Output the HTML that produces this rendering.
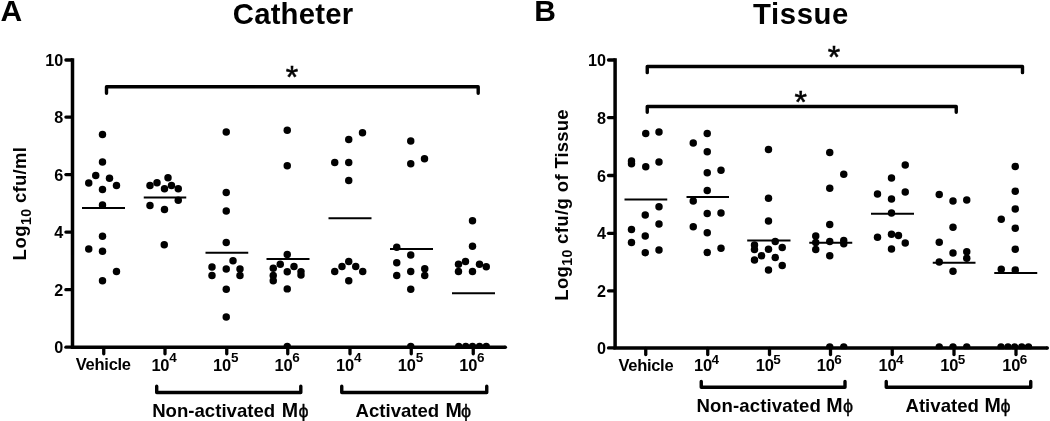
<!DOCTYPE html>
<html><head><meta charset="utf-8"><title>Figure</title>
<style>
html,body{margin:0;padding:0;background:#fff;}
body{width:1050px;height:421px;position:relative;overflow:hidden;font-family:"Liberation Sans",sans-serif;}
</style></head><body>
<svg width="1050" height="421" viewBox="0 0 1050 421" style="position:absolute;left:0;top:0;will-change:transform;opacity:0.999" font-family="Liberation Sans, sans-serif" font-weight="bold" fill="#000"><defs><clipPath id="cl"><rect x="0" y="0" width="525" height="348.6"/></clipPath><clipPath id="cr"><rect x="525" y="0" width="525" height="349.3"/></clipPath></defs><path d="M72.5 58.35 V347.2 H505.3" fill="none" stroke="#000" stroke-width="3.5" stroke-linejoin="miter"/><circle cx="505.3" cy="347.2" r="1.75"/><line x1="65.9" y1="60" x2="71.9" y2="60" stroke="#000" stroke-width="3.3" stroke-linecap="round"/><line x1="65.9" y1="117.1" x2="71.9" y2="117.1" stroke="#000" stroke-width="3.3" stroke-linecap="round"/><line x1="65.9" y1="174.6" x2="71.9" y2="174.6" stroke="#000" stroke-width="3.3" stroke-linecap="round"/><line x1="65.9" y1="232.1" x2="71.9" y2="232.1" stroke="#000" stroke-width="3.3" stroke-linecap="round"/><line x1="65.9" y1="289.7" x2="71.9" y2="289.7" stroke="#000" stroke-width="3.3" stroke-linecap="round"/><line x1="65.9" y1="347.2" x2="71.9" y2="347.2" stroke="#000" stroke-width="3.3" stroke-linecap="round"/><line x1="103.75" y1="347.8" x2="103.75" y2="353.8" stroke="#000" stroke-width="3.3" stroke-linecap="round"/><line x1="165" y1="347.8" x2="165" y2="353.8" stroke="#000" stroke-width="3.3" stroke-linecap="round"/><line x1="226.75" y1="347.8" x2="226.75" y2="353.8" stroke="#000" stroke-width="3.3" stroke-linecap="round"/><line x1="287.75" y1="347.8" x2="287.75" y2="353.8" stroke="#000" stroke-width="3.3" stroke-linecap="round"/><line x1="350" y1="347.8" x2="350" y2="353.8" stroke="#000" stroke-width="3.3" stroke-linecap="round"/><line x1="411.25" y1="347.8" x2="411.25" y2="353.8" stroke="#000" stroke-width="3.3" stroke-linecap="round"/><line x1="473.25" y1="347.8" x2="473.25" y2="353.8" stroke="#000" stroke-width="3.3" stroke-linecap="round"/><text x="63.3" y="66.0" text-anchor="end" font-size="16.2">10</text><text x="63.3" y="123.1" text-anchor="end" font-size="16.2">8</text><text x="63.3" y="180.6" text-anchor="end" font-size="16.2">6</text><text x="63.3" y="238.1" text-anchor="end" font-size="16.2">4</text><text x="63.3" y="295.7" text-anchor="end" font-size="16.2">2</text><text x="63.3" y="353.2" text-anchor="end" font-size="16.2">0</text><g clip-path="url(#cl)"><circle cx="102.5" cy="134.5" r="3.72"/><circle cx="102.5" cy="162" r="3.72"/><circle cx="95.75" cy="175.5" r="3.72"/><circle cx="109.5" cy="178.25" r="3.72"/><circle cx="88.75" cy="183" r="3.72"/><circle cx="116.5" cy="185.5" r="3.72"/><circle cx="102.5" cy="189.5" r="3.72"/><circle cx="102.5" cy="205" r="3.72"/><circle cx="102.5" cy="236.25" r="3.72"/><circle cx="88.75" cy="249" r="3.72"/><circle cx="102.5" cy="251.25" r="3.72"/><circle cx="116.5" cy="271.5" r="3.72"/><circle cx="102.5" cy="280.75" r="3.72"/><circle cx="168" cy="177.75" r="3.72"/><circle cx="157" cy="182.75" r="3.72"/><circle cx="150" cy="185.5" r="3.72"/><circle cx="171.5" cy="185.5" r="3.72"/><circle cx="164.5" cy="188.75" r="3.72"/><circle cx="178.25" cy="188.75" r="3.72"/><circle cx="178.25" cy="200.25" r="3.72"/><circle cx="150" cy="205.5" r="3.72"/><circle cx="164.5" cy="209.5" r="3.72"/><circle cx="164.25" cy="244.75" r="3.72"/><circle cx="226.25" cy="132" r="3.72"/><circle cx="226.25" cy="192.5" r="3.72"/><circle cx="226.25" cy="211" r="3.72"/><circle cx="226.25" cy="242.5" r="3.72"/><circle cx="233" cy="260.75" r="3.72"/><circle cx="212" cy="267" r="3.72"/><circle cx="226.25" cy="269" r="3.72"/><circle cx="240" cy="269" r="3.72"/><circle cx="212" cy="275.5" r="3.72"/><circle cx="240" cy="275.5" r="3.72"/><circle cx="226.25" cy="289.25" r="3.72"/><circle cx="226.25" cy="317" r="3.72"/><circle cx="287.25" cy="130.25" r="3.72"/><circle cx="287.25" cy="165.75" r="3.72"/><circle cx="287.25" cy="254.5" r="3.72"/><circle cx="280.25" cy="264.3" r="3.72"/><circle cx="294" cy="266.5" r="3.72"/><circle cx="273.25" cy="268.3" r="3.72"/><circle cx="287.25" cy="271.7" r="3.72"/><circle cx="301" cy="271.6" r="3.72"/><circle cx="273.25" cy="275.5" r="3.72"/><circle cx="301" cy="275.1" r="3.72"/><circle cx="273.25" cy="280.75" r="3.72"/><circle cx="287.25" cy="288.9" r="3.72"/><circle cx="287.25" cy="346.5" r="3.72"/><circle cx="348.75" cy="139.5" r="3.72"/><circle cx="362.5" cy="132.75" r="3.72"/><circle cx="334.75" cy="162.5" r="3.72"/><circle cx="348.75" cy="162.5" r="3.72"/><circle cx="348.75" cy="180.5" r="3.72"/><circle cx="348.75" cy="261.5" r="3.72"/><circle cx="342" cy="266.5" r="3.72"/><circle cx="355.75" cy="266.5" r="3.72"/><circle cx="334.75" cy="271.5" r="3.72"/><circle cx="362.75" cy="271.5" r="3.72"/><circle cx="348.75" cy="280.75" r="3.72"/><circle cx="410.75" cy="141" r="3.72"/><circle cx="410.75" cy="163.75" r="3.72"/><circle cx="424.5" cy="158.75" r="3.72"/><circle cx="396.75" cy="247.25" r="3.72"/><circle cx="410.75" cy="255" r="3.72"/><circle cx="396.75" cy="262.75" r="3.72"/><circle cx="424.75" cy="268.75" r="3.72"/><circle cx="410.75" cy="271.5" r="3.72"/><circle cx="396.75" cy="275.5" r="3.72"/><circle cx="424.75" cy="275.5" r="3.72"/><circle cx="410.75" cy="289.25" r="3.72"/><circle cx="410.75" cy="346.5" r="3.72"/><circle cx="472.5" cy="220.75" r="3.72"/><circle cx="472.5" cy="246.25" r="3.72"/><circle cx="465.5" cy="261.5" r="3.72"/><circle cx="458.5" cy="264.25" r="3.72"/><circle cx="479.5" cy="264.25" r="3.72"/><circle cx="486.25" cy="266.75" r="3.72"/><circle cx="458.5" cy="271.5" r="3.72"/><circle cx="472.5" cy="271.5" r="3.72"/><circle cx="458.75" cy="346.5" r="3.72"/><circle cx="465.75" cy="346.5" r="3.72"/><circle cx="472.5" cy="346.5" r="3.72"/><circle cx="479.5" cy="346.5" r="3.72"/><circle cx="486.25" cy="346.5" r="3.72"/></g><line x1="82" y1="208" x2="125" y2="208" stroke="#000" stroke-width="1.8"/><line x1="143.75" y1="197.5" x2="186.25" y2="197.5" stroke="#000" stroke-width="1.8"/><line x1="205.5" y1="252.75" x2="248.25" y2="252.75" stroke="#000" stroke-width="1.8"/><line x1="266.5" y1="259.0" x2="309.5" y2="259.0" stroke="#000" stroke-width="1.8"/><line x1="328.5" y1="218.25" x2="371.5" y2="218.25" stroke="#000" stroke-width="1.8"/><line x1="390" y1="249" x2="433" y2="249" stroke="#000" stroke-width="1.8"/><line x1="452" y1="293.25" x2="495" y2="293.25" stroke="#000" stroke-width="1.8"/><path d="M106.5 93.2 V86.7 H478.2 V93.2" fill="none" stroke="#000" stroke-width="3.4" stroke-linejoin="round" stroke-linecap="round"/><text x="292" y="88.02000000000001" text-anchor="middle" font-size="32" font-weight="normal" stroke="#000" stroke-width="0.55">*</text><text x="0.4" y="21.1" font-size="30">A</text><text x="232.8" y="23.6" font-size="29.3" letter-spacing="0.2">Catheter</text><text x="75.8" y="370.3" font-size="16.5" letter-spacing="-0.27">Vehicle</text><text x="151.39999999999998" y="370.7" font-size="16.5" letter-spacing="-0.3">10</text><text x="169.2" y="361.8" font-size="13.5">4</text><text x="213.1" y="370.7" font-size="16.5" letter-spacing="-0.3">10</text><text x="230.9" y="361.8" font-size="13.5">5</text><text x="274.5" y="370.7" font-size="16.5" letter-spacing="-0.3">10</text><text x="292.3" y="361.8" font-size="13.5">6</text><text x="336.09999999999997" y="370.7" font-size="16.5" letter-spacing="-0.3">10</text><text x="353.9" y="361.8" font-size="13.5">4</text><text x="397.84999999999997" y="370.7" font-size="16.5" letter-spacing="-0.3">10</text><text x="415.65" y="361.8" font-size="13.5">5</text><text x="459.3" y="370.7" font-size="16.5" letter-spacing="-0.3">10</text><text x="477.1" y="361.8" font-size="13.5">6</text><path d="M156.7 386.2 V392.5 H300.8 V386.2" fill="none" stroke="#000" stroke-width="3.4" stroke-linejoin="round" stroke-linecap="round"/><path d="M341.75 386.2 V392.5 H486.75 V386.2" fill="none" stroke="#000" stroke-width="3.4" stroke-linejoin="round" stroke-linecap="round"/><text x="152.2" y="416.6" font-size="18.6">Non-activated <tspan dx="1.4" font-size="19.6">M</tspan><tspan font-weight="normal" font-size="18" dx="0.4" dy="0.1" stroke="#000" stroke-width="0.35">ϕ</tspan></text><text x="355.5" y="416.6" font-size="18.6">Activated <tspan dx="1.1" font-size="19.6">M</tspan><tspan font-weight="normal" font-size="18" dx="-0.8" dy="0.1" stroke="#000" stroke-width="0.35">ϕ</tspan></text><text transform="translate(26.2,260.4) rotate(-90)" font-size="18.5" letter-spacing="0.5">Log<tspan font-size="14" dy="4.5">10</tspan><tspan dy="-4.5" letter-spacing="0.27"> cfu/ml</tspan></text><path d="M615.1 58.35 V347.9 H1047.3" fill="none" stroke="#000" stroke-width="3.5" stroke-linejoin="miter"/><circle cx="1047.3" cy="347.9" r="1.75"/><line x1="608.5" y1="60" x2="614.5" y2="60" stroke="#000" stroke-width="3.3" stroke-linecap="round"/><line x1="608.5" y1="117.6" x2="614.5" y2="117.6" stroke="#000" stroke-width="3.3" stroke-linecap="round"/><line x1="608.5" y1="175.5" x2="614.5" y2="175.5" stroke="#000" stroke-width="3.3" stroke-linecap="round"/><line x1="608.5" y1="233.3" x2="614.5" y2="233.3" stroke="#000" stroke-width="3.3" stroke-linecap="round"/><line x1="608.5" y1="290.8" x2="614.5" y2="290.8" stroke="#000" stroke-width="3.3" stroke-linecap="round"/><line x1="608.5" y1="347.9" x2="614.5" y2="347.9" stroke="#000" stroke-width="3.3" stroke-linecap="round"/><line x1="645.75" y1="348.5" x2="645.75" y2="354.5" stroke="#000" stroke-width="3.3" stroke-linecap="round"/><line x1="707.75" y1="348.5" x2="707.75" y2="354.5" stroke="#000" stroke-width="3.3" stroke-linecap="round"/><line x1="769.5" y1="348.5" x2="769.5" y2="354.5" stroke="#000" stroke-width="3.3" stroke-linecap="round"/><line x1="830.5" y1="348.5" x2="830.5" y2="354.5" stroke="#000" stroke-width="3.3" stroke-linecap="round"/><line x1="892.25" y1="348.5" x2="892.25" y2="354.5" stroke="#000" stroke-width="3.3" stroke-linecap="round"/><line x1="954" y1="348.5" x2="954" y2="354.5" stroke="#000" stroke-width="3.3" stroke-linecap="round"/><line x1="1016" y1="348.5" x2="1016" y2="354.5" stroke="#000" stroke-width="3.3" stroke-linecap="round"/><text x="606.1" y="66.0" text-anchor="end" font-size="16.2">10</text><text x="606.1" y="123.6" text-anchor="end" font-size="16.2">8</text><text x="606.1" y="181.5" text-anchor="end" font-size="16.2">6</text><text x="606.1" y="239.3" text-anchor="end" font-size="16.2">4</text><text x="606.1" y="296.8" text-anchor="end" font-size="16.2">2</text><text x="606.1" y="353.9" text-anchor="end" font-size="16.2">0</text><g clip-path="url(#cr)"><circle cx="645.75" cy="133.5" r="3.72"/><circle cx="659" cy="132" r="3.72"/><circle cx="631.5" cy="161" r="3.72"/><circle cx="631.5" cy="163.8" r="3.72"/><circle cx="659" cy="162" r="3.72"/><circle cx="645.75" cy="166.75" r="3.72"/><circle cx="659" cy="206.75" r="3.72"/><circle cx="645.25" cy="215" r="3.72"/><circle cx="659" cy="224" r="3.72"/><circle cx="631.5" cy="229.5" r="3.72"/><circle cx="645.25" cy="236" r="3.72"/><circle cx="631.5" cy="242.5" r="3.72"/><circle cx="659" cy="250" r="3.72"/><circle cx="645.25" cy="252.75" r="3.72"/><circle cx="707.25" cy="133.5" r="3.72"/><circle cx="693.25" cy="143" r="3.72"/><circle cx="707.25" cy="151.75" r="3.72"/><circle cx="721" cy="170.25" r="3.72"/><circle cx="707.25" cy="172.75" r="3.72"/><circle cx="707.25" cy="190.5" r="3.72"/><circle cx="693.25" cy="201" r="3.72"/><circle cx="707.25" cy="213.5" r="3.72"/><circle cx="721" cy="213" r="3.72"/><circle cx="693.25" cy="226.75" r="3.72"/><circle cx="707.25" cy="232.75" r="3.72"/><circle cx="721" cy="248.25" r="3.72"/><circle cx="707.25" cy="252.5" r="3.72"/><circle cx="768.5" cy="149.5" r="3.72"/><circle cx="768.5" cy="198.25" r="3.72"/><circle cx="768.5" cy="221" r="3.72"/><circle cx="775.25" cy="241.5" r="3.72"/><circle cx="754.5" cy="245" r="3.72"/><circle cx="754.5" cy="249.5" r="3.72"/><circle cx="768.5" cy="249.25" r="3.72"/><circle cx="782.25" cy="247.5" r="3.72"/><circle cx="761.5" cy="255.75" r="3.72"/><circle cx="775.25" cy="257.5" r="3.72"/><circle cx="754.5" cy="260" r="3.72"/><circle cx="782.25" cy="265.5" r="3.72"/><circle cx="768.5" cy="270" r="3.72"/><circle cx="829.75" cy="152.5" r="3.72"/><circle cx="843.75" cy="174.25" r="3.72"/><circle cx="829.75" cy="188.25" r="3.72"/><circle cx="829.75" cy="224.5" r="3.72"/><circle cx="815.75" cy="236" r="3.72"/><circle cx="815.75" cy="242.5" r="3.72"/><circle cx="829.75" cy="241.5" r="3.72"/><circle cx="843.75" cy="240.5" r="3.72"/><circle cx="843.75" cy="243.75" r="3.72"/><circle cx="815.75" cy="249.5" r="3.72"/><circle cx="829.75" cy="255.75" r="3.72"/><circle cx="829.75" cy="347" r="3.72"/><circle cx="843.75" cy="347" r="3.72"/><circle cx="905.25" cy="165" r="3.72"/><circle cx="891.5" cy="178" r="3.72"/><circle cx="877.5" cy="194" r="3.72"/><circle cx="905.25" cy="192" r="3.72"/><circle cx="891.5" cy="199" r="3.72"/><circle cx="891.5" cy="213" r="3.72"/><circle cx="877.5" cy="237.25" r="3.72"/><circle cx="891.5" cy="234.25" r="3.72"/><circle cx="898.5" cy="235.5" r="3.72"/><circle cx="905.25" cy="243" r="3.72"/><circle cx="891.5" cy="249" r="3.72"/><circle cx="939.25" cy="194.5" r="3.72"/><circle cx="953" cy="201" r="3.72"/><circle cx="966.75" cy="200" r="3.72"/><circle cx="953" cy="227.25" r="3.72"/><circle cx="939.25" cy="242.25" r="3.72"/><circle cx="953" cy="253" r="3.72"/><circle cx="966.75" cy="251.75" r="3.72"/><circle cx="966.75" cy="258.25" r="3.72"/><circle cx="939.25" cy="262" r="3.72"/><circle cx="953" cy="271.25" r="3.72"/><circle cx="939.25" cy="347" r="3.72"/><circle cx="953" cy="347" r="3.72"/><circle cx="966.75" cy="347" r="3.72"/><circle cx="1015.25" cy="166.5" r="3.72"/><circle cx="1015.25" cy="191.25" r="3.72"/><circle cx="1015.25" cy="209" r="3.72"/><circle cx="1001.25" cy="219.25" r="3.72"/><circle cx="1015.25" cy="228.25" r="3.72"/><circle cx="1015.25" cy="249.25" r="3.72"/><circle cx="1001.25" cy="269.25" r="3.72"/><circle cx="1015.25" cy="270" r="3.72"/><circle cx="1001" cy="347" r="3.72"/><circle cx="1008" cy="347" r="3.72"/><circle cx="1014.75" cy="347" r="3.72"/><circle cx="1021.75" cy="347" r="3.72"/><circle cx="1028.5" cy="347" r="3.72"/></g><line x1="624.5" y1="199.5" x2="667.25" y2="199.5" stroke="#000" stroke-width="1.8"/><line x1="686.5" y1="197" x2="729" y2="197" stroke="#000" stroke-width="1.8"/><line x1="747.2" y1="240.5" x2="790.5" y2="240.5" stroke="#000" stroke-width="1.8"/><line x1="809.25" y1="242.75" x2="852.25" y2="242.75" stroke="#000" stroke-width="1.8"/><line x1="871" y1="213.75" x2="914" y2="213.75" stroke="#000" stroke-width="1.8"/><line x1="932.75" y1="262.75" x2="975.5" y2="262.75" stroke="#000" stroke-width="1.8"/><line x1="994.25" y1="273" x2="1037.25" y2="273" stroke="#000" stroke-width="1.8"/><path d="M647.25 72.65 V66.45 H1022.5 V72.65" fill="none" stroke="#000" stroke-width="3.4" stroke-linejoin="round" stroke-linecap="round"/><path d="M647.25 112.35 V106.45 H956.25 V112.35" fill="none" stroke="#000" stroke-width="3.4" stroke-linejoin="round" stroke-linecap="round"/><text x="834.0" y="68.32000000000001" text-anchor="middle" font-size="32" font-weight="normal" stroke="#000" stroke-width="0.55">*</text><text x="800.7" y="112.62" text-anchor="middle" font-size="32" font-weight="normal" stroke="#000" stroke-width="0.55">*</text><text x="534.3" y="21.1" font-size="30">B</text><text x="753.1" y="23.6" font-size="29.3" letter-spacing="0.6">Tissue</text><text x="618.5" y="371" font-size="16.5" letter-spacing="-0.3">Vehicle</text><text x="694.0500000000001" y="371.0" font-size="16.5" letter-spacing="-0.3">10</text><text x="711.45" y="363.5" font-size="13.5">4</text><text x="755.8000000000001" y="371.0" font-size="16.5" letter-spacing="-0.3">10</text><text x="773.2" y="363.5" font-size="13.5">5</text><text x="816.8000000000001" y="371.0" font-size="16.5" letter-spacing="-0.3">10</text><text x="834.2" y="363.5" font-size="13.5">6</text><text x="878.5500000000001" y="371.0" font-size="16.5" letter-spacing="-0.3">10</text><text x="895.95" y="363.5" font-size="13.5">4</text><text x="940.3000000000001" y="371.0" font-size="16.5" letter-spacing="-0.3">10</text><text x="957.7" y="363.5" font-size="13.5">5</text><text x="1002.3000000000001" y="371.0" font-size="16.5" letter-spacing="-0.3">10</text><text x="1019.7" y="363.5" font-size="13.5">6</text><path d="M701.25 381.45 V387.25 H845 V381.45" fill="none" stroke="#000" stroke-width="3.4" stroke-linejoin="round" stroke-linecap="round"/><path d="M886.25 381.45 V387.25 H1030.75 V381.45" fill="none" stroke="#000" stroke-width="3.4" stroke-linejoin="round" stroke-linecap="round"/><text x="696.6" y="411.7" font-size="18.6" letter-spacing="0.1">Non-activated <tspan dx="0.2" font-size="19.6">M</tspan><tspan font-weight="normal" font-size="18" dx="0.2" dy="0.1" stroke="#000" stroke-width="0.35">ϕ</tspan></text><text x="905.5" y="411.7" font-size="18.6">Ativated <tspan dx="0.5" font-size="19.6">M</tspan><tspan font-weight="normal" font-size="18" dx="-0.3" dy="0.1" stroke="#000" stroke-width="0.35">ϕ</tspan></text><text transform="translate(567.5,300.8) rotate(-90)" font-size="18.5" letter-spacing="0.38">Log<tspan font-size="14" dy="4.5">10</tspan><tspan dy="-4.5"> cfu/g of </tspan><tspan letter-spacing="0.15">Tissue</tspan></text></svg>
</body></html>
